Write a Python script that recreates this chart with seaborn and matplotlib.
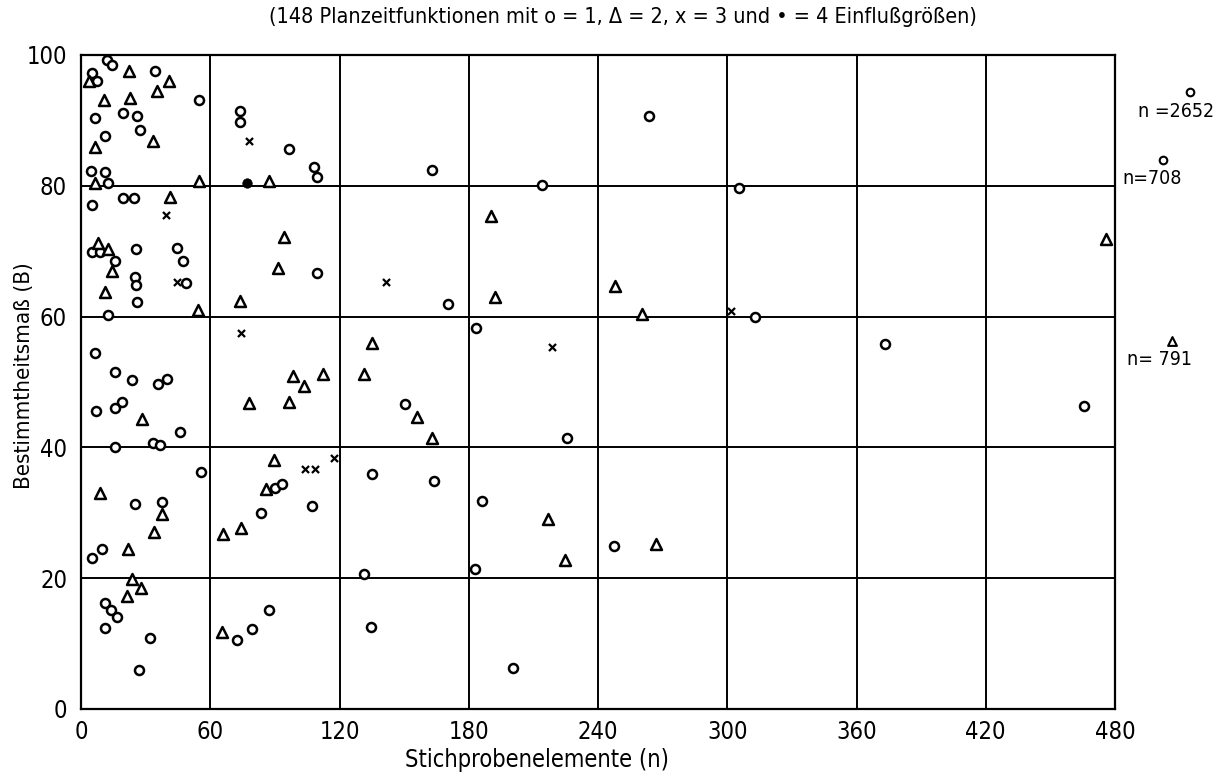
import matplotlib
matplotlib.use("Agg")
import matplotlib.pyplot as plt
import matplotlib.transforms as mtransforms
from matplotlib.ticker import MultipleLocator
import seaborn as sns
import pandas as pd

# ---- data (n = Stichprobenelemente, B = Bestimmtheitsmaß) ----
circle_n = [12.2, 14.2, 5.1, 7.5, 34.4, 55.0, 6.5, 19.5, 26.0, 27.3, 11.2, 4.7, 11.2, 12.5,
            19.5, 24.6, 5.0, 5.1, 8.6, 25.7, 44.7, 47.5, 16.0, 24.9, 25.4, 48.6,
            25.8, 12.4, 6.6, 15.9, 23.7, 35.9, 39.9, 18.9, 15.9, 7.1, 45.9, 15.9, 33.2, 36.6, 55.5,
            25.2, 37.4, 9.6, 5.0, 11.1, 13.9, 16.5, 11.1, 32.2, 26.7,
            73.8, 73.8, 96.5, 108.1, 109.7, 109.7,
            90.2, 93.3, 107.4, 83.6, 87.5, 79.2, 72.6,
            162.9, 214.0, 170.3, 183.3,
            150.5, 225.8, 135.1, 163.8, 186.3, 247.4, 131.2, 183.1, 134.8, 200.4,
            263.7, 305.4, 312.9, 373.0, 465.6]
circle_B = [99.3, 98.5, 97.2, 96.0, 97.6, 93.1, 90.3, 91.1, 90.6, 88.6, 87.6, 82.2, 82.1, 80.5,
            78.2, 78.1, 77.0, 69.9, 69.9, 70.4, 70.5, 68.5, 68.5, 66.0, 64.8, 65.2,
            62.3, 60.3, 54.4, 51.6, 50.3, 49.7, 50.4, 47.0, 46.0, 45.5, 42.4, 40.0, 40.7, 40.3, 36.2,
            31.3, 31.7, 24.5, 23.1, 16.2, 15.1, 14.0, 12.4, 10.8, 5.9,
            91.5, 89.7, 85.7, 82.8, 81.3, 66.6,
            33.8, 34.4, 31.0, 30.0, 15.1, 12.3, 10.6,
            82.4, 80.05, 62.0, 58.3,
            46.6, 41.5, 35.9, 34.8, 31.8, 24.9, 20.7, 21.4, 12.6, 6.2,
            90.7, 79.6, 60.0, 55.8, 46.4]

tri_n = [3.6, 22.3, 41.0, 10.9, 22.6, 35.1, 33.2, 6.7, 6.7, 54.8, 41.3, 7.8, 12.5, 14.3, 11.2,
         54.1, 28.1, 8.9, 37.4, 33.7, 21.8, 23.8, 27.9, 21.5,
         87.1, 94.2, 91.5, 73.6, 98.4, 103.4, 112.5,
         77.8, 96.6, 89.5, 85.9, 74.5, 66.0, 65.5,
         190.1, 247.7, 192.4, 135.0, 131.5,
         156.1, 163.1, 216.6, 224.7,
         260.6, 266.7, 475.7]
tri_B = [96.0, 97.6, 96.1, 93.1, 93.5, 94.5, 86.9, 86.0, 80.5, 80.7, 78.3, 71.3, 70.3, 67.0, 63.8,
         61.0, 44.3, 33.1, 29.8, 27.1, 24.4, 19.9, 18.5, 17.3,
         80.8, 72.2, 67.4, 62.4, 50.9, 49.4, 51.2,
         46.8, 47.0, 38.1, 33.7, 27.7, 26.7, 11.7,
         75.4, 64.7, 63.0, 56.0, 51.15,
         44.7, 41.5, 29.0, 22.8,
         60.4, 25.2, 71.9]

cross_n = [39.4, 44.4, 78.0, 74.1, 104.0, 108.7, 117.3, 141.5, 218.6, 301.6]
cross_B = [75.5, 65.3, 86.9, 57.5, 36.7, 36.7, 38.4, 65.3, 55.3, 60.9]

dot_n = [77.2]
dot_B = [80.5]

# points beyond the axis range (drawn at the right margin)
off_labels = ["n =2652", "n=708", "n= 791"]
off_kind = ["o", "o", "^"]
off_B = [94.3, 84.0, 56.3]

x_ticks = [0, 60, 120, 180, 240, 300, 360, 420, 480]
y_ticks = [0, 20, 40, 60, 80, 100]

title = "(148 Planzeitfunktionen mit o = 1, \u0394 = 2, x = 3 und \u2022 = 4 Einflußgrößen)"
xlabel = "Stichprobenelemente (n)"
ylabel = "Bestimmtheitsmaß (B)"

# ---- plotting ----
sns.set_style("white")
plt.rcParams["font.family"] = ["DejaVu Sans"]
plt.rcParams["font.stretch"] = "condensed"

W, H = 1227, 779
fig = plt.figure(figsize=(W / 100, H / 100), dpi=100)
x0, x1, ytop, ybot = 81, 1115, 55, 709
ax = fig.add_axes([x0 / W, 1 - ybot / H, (x1 - x0) / W, (ybot - ytop) / H])

df_c = pd.DataFrame({"n": circle_n, "B": circle_B})
df_t = pd.DataFrame({"n": tri_n, "B": tri_B})
df_x = pd.DataFrame({"n": cross_n, "B": cross_B})
df_d = pd.DataFrame({"n": dot_n, "B": dot_B})

sns.scatterplot(data=df_c, x="n", y="B", marker="o", s=42, facecolor="white",
                edgecolor="black", linewidth=1.8, ax=ax, zorder=3)
sns.scatterplot(data=df_t, x="n", y="B", marker="^", s=62, facecolor="white",
                edgecolor="black", linewidth=1.8, ax=ax, zorder=3)
sns.scatterplot(data=df_x, x="n", y="B", marker="x", s=26, color="black",
                linewidth=1.6, ax=ax, zorder=3)
sns.scatterplot(data=df_d, x="n", y="B", marker="o", s=46, color="black",
                edgecolor="black", ax=ax, zorder=3)

ax.set_xlim(0, 480)
ax.set_ylim(0, 100)
ax.set_xticks(x_ticks)
ax.set_yticks(y_ticks)
ax.xaxis.set_minor_locator(MultipleLocator(20))
ax.yaxis.set_minor_locator(MultipleLocator(10))
ax.grid(True, which="major", color="black", linewidth=1.4)
ax.set_axisbelow(True)
for sp in ax.spines.values():
    sp.set_visible(True)
    sp.set_color("black")
    sp.set_linewidth(1.6)

ax.tick_params(axis="x", which="major", direction="inout", length=8, width=1.4,
               labelsize=17, pad=4, colors="black")
ax.tick_params(axis="x", which="minor", direction="in", length=6, width=1.4)
ax.tick_params(axis="y", which="major", direction="out", length=6, width=1.4,
               labelsize=17, pad=4, colors="black")
ax.tick_params(axis="y", which="minor", direction="out", length=5, width=1.4)

ax.set_xlabel(xlabel, fontsize=17, color="black")
ax.set_ylabel(ylabel, fontsize=16, color="black")
ax.xaxis.set_label_coords((537 - x0) / (x1 - x0), -(748 - ybot) / (ybot - ytop))
ax.yaxis.set_label_coords(-(x0 - 34) / (x1 - x0), (ybot - 376) / (ybot - ytop))

# off-range points in the right margin
trans = mtransforms.blended_transform_factory(ax.transAxes, ax.transData)
off_xpos = [1.0725, 1.046, 1.055]
lab_xpos = [1.059, 1.036, 1.043]
lab_dy = [-3.0, -2.9, -2.9]
for k, b, lab, xp, lxp, dy in zip(off_kind, off_B, off_labels, off_xpos, lab_xpos, lab_dy):
    ax.scatter([xp], [b], marker=k, s=30 if k == "o" else 40, facecolor="white",
               edgecolor="black", linewidth=1.5, transform=trans, clip_on=False, zorder=4)
    ax.text(lxp, b + dy, lab, transform=trans, ha="center", va="center", fontsize=14,
            clip_on=False, color="black")

fig.text(0.508, 1 - 17 / H, title, ha="center", va="center", fontsize=15.5, color="black")

fig.savefig("out.png", dpi=100)
